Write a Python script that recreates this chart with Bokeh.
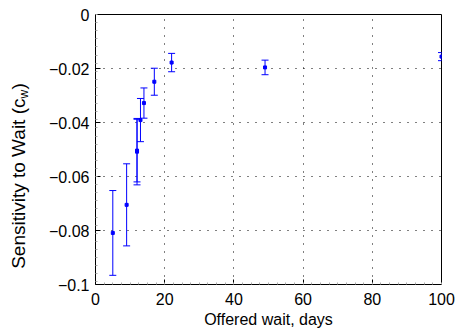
import math
from bokeh.plotting import figure
from bokeh.layouts import row
from bokeh.models import (ColumnDataSource, Whisker, TeeHead, FixedTicker, Range1d)
from bokeh.core.properties import value
from bokeh.embed import file_html
from bokeh.resources import INLINE

# ---- data ----
offered_wait = [5, 9, 12, 12, 13, 14, 17, 22, 49, 100]
sensitivity = [-0.0809, -0.0705, -0.0504, -0.0508, -0.0391, -0.0328, -0.0249, -0.0178, -0.0196, -0.0156]
std_err = [0.0157, 0.0152, 0.0116, 0.0123, 0.0080, 0.0056, 0.0050, 0.0034, 0.0027, 0.0015]

x_ticks = [0, 20, 40, 60, 80, 100]
x_tick_labels = ["0", "20", "40", "60", "80", "100"]
y_ticks = [0, -0.02, -0.04, -0.06, -0.08, -0.1]
y_tick_labels = ["0", "\u22120.02", "\u22120.04", "\u22120.06", "\u22120.08", "\u22120.1"]
y_label_parts = ["Sensitivity to Wait (c", "w", ")"]

FONT = "Liberation Sans"
BLUE = "#0000ff"
H = 328
LW = 30  # width of the strip holding the rotated y-axis title

src = ColumnDataSource(dict(
    x=offered_wait,
    y=sensitivity,
    upper=[v + e for v, e in zip(sensitivity, std_err)],
    lower=[v - e for v, e in zip(sensitivity, std_err)],
))

p = figure(frame_width=346, frame_height=270, output_backend="svg", toolbar_location=None,
           x_range=Range1d(0, 100), y_range=Range1d(-0.1, 0),
           min_border_left=95 - LW, min_border_right=14, min_border_top=14, min_border_bottom=44)
p.background_fill_color = "white"
p.border_fill_color = "white"
p.outline_line_color = "black"
p.outline_line_width = 1

w = Whisker(source=src, base="x", upper="upper", lower="lower",
            line_color=BLUE, line_width=1,
            upper_head=TeeHead(size=7, line_color=BLUE, line_width=1),
            lower_head=TeeHead(size=7, line_color=BLUE, line_width=1))
p.add_layout(w)
p.scatter("x", "y", source=src, marker="square", size=3, color=BLUE)

# axes
for ax in (p.xaxis[0], p.yaxis[0]):
    ax.major_tick_in = 5
    ax.major_tick_out = 0
    ax.minor_tick_in = 2
    ax.minor_tick_out = 0
    ax.minor_tick_line_color = "#aaaaaa"
    ax.axis_line_color = "black"
    ax.major_tick_line_color = "black"
    ax.major_label_text_font = FONT
    ax.major_label_text_font_size = "16px"
    ax.major_label_text_color = "black"

p.xaxis[0].ticker = FixedTicker(ticks=x_ticks, minor_ticks=[i * 2.5 for i in range(41)])
p.xaxis[0].major_label_overrides = {t: l for t, l in zip(x_ticks, x_tick_labels)}
p.xaxis[0].major_label_standoff = 8
p.xaxis[0].axis_label = "Offered wait, days"
p.xaxis[0].axis_label_text_font = FONT
p.xaxis[0].axis_label_text_font_size = "16px"
p.xaxis[0].axis_label_text_font_style = "normal"
p.xaxis[0].axis_label_text_color = "black"
p.xaxis[0].axis_label_standoff = 3

p.yaxis[0].ticker = FixedTicker(ticks=y_ticks, minor_ticks=[-i * 0.003 for i in range(34)])
p.yaxis[0].major_label_overrides = {t: l for t, l in zip(y_ticks, y_tick_labels)}
p.yaxis[0].major_label_standoff = 6

# grid
p.xgrid.ticker = FixedTicker(ticks=x_ticks)
p.ygrid.ticker = FixedTicker(ticks=y_ticks)
for g in (p.xgrid[0], p.ygrid[0]):
    g.grid_line_color = "black"
    g.grid_line_dash = "1 7"
    g.grid_line_width = 1

# strip with rotated y-axis title (pixel coordinates, y measured from bottom)
lf = figure(frame_width=LW, frame_height=H, output_backend="svg", toolbar_location=None,
            x_range=Range1d(0, LW), y_range=Range1d(0, H),
            min_border_left=0, min_border_right=0, min_border_top=0, min_border_bottom=0)
lf.axis.visible = False
lf.grid.visible = False
lf.outline_line_color = None
lf.border_fill_color = "white"
lf.background_fill_color = "white"

ang = math.pi / 2
split = H - 84
lf.text(x=[18], y=[split], text=[y_label_parts[0]], angle=ang,
        text_font=value(FONT), text_font_size="19px", text_color="black",
        text_align="right", text_baseline="alphabetic")
lf.text(x=[23], y=[split], text=[y_label_parts[1]], angle=ang,
        text_font=value(FONT), text_font_size="12px", text_color="black",
        text_align="left", text_baseline="alphabetic")
lf.text(x=[18], y=[split + 9], text=[y_label_parts[2]], angle=ang,
        text_font=value(FONT), text_font_size="19px", text_color="black",
        text_align="left", text_baseline="alphabetic")

layout = row(lf, p, spacing=0)
open("out.html", "w").write(file_html(layout, INLINE))
